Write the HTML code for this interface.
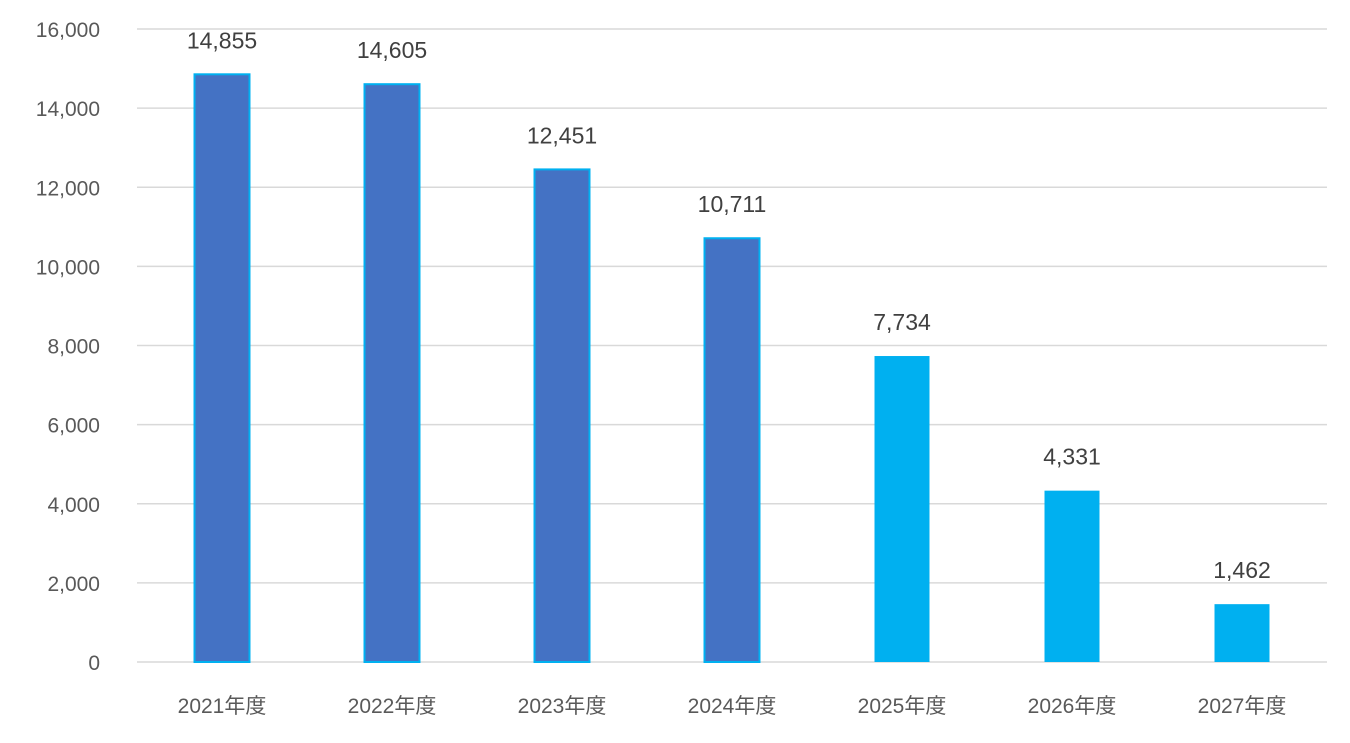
<!DOCTYPE html>
<html><head><meta charset="utf-8"><style>
html,body{margin:0;padding:0;background:#fff;}
svg{display:block;font-family:"Liberation Sans","Noto Sans CJK JP",sans-serif;}
</style></head><body>
<svg id="chart" width="1350" height="743"></svg>
<script>
const categories=["2021年度","2022年度","2023年度","2024年度","2025年度","2026年度","2027年度"];
const values=[14855,14605,12451,10711,7734,4331,1462];
const projected=[false,false,false,false,true,true,true];
const yTicks=[0,2000,4000,6000,8000,10000,12000,14000,16000];
const svg=document.getElementById('chart');
const NS='http://www.w3.org/2000/svg';
const x0=137,x1=1327,yBase=662,yTop=29,yMax=16000;
const y=v=>yBase-(v/yMax)*(yBase-yTop);
const band=(x1-x0)/categories.length;
const xc=i=>x0+band*(i+0.5);
const bw=55;
function mk(tag,attrs,text){const e=document.createElementNS(NS,tag);for(const k in attrs)e.setAttribute(k,attrs[k]);if(text!==undefined)e.textContent=text;svg.appendChild(e);return e;}
const fmt=v=>v.toLocaleString('en-US');
yTicks.forEach(t=>{
  const g=mk('line',{x1:x0,x2:x1,y1:y(t),y2:y(t),stroke:'#d9d9d9','stroke-width':1.5});
  
  
  const l=mk('text',{x:100,y:y(t)+8,'text-anchor':'end','font-size':21,fill:'#595959'},fmt(t));
  
  
});
values.forEach((v,i)=>{
  const p=projected[i];
  const r=mk('rect',{x:xc(i)-bw/2,y:y(v),width:bw,height:yBase-y(v),fill:p?'#00B0F0':'#4472C4',stroke:p?'none':'#00B0F0','stroke-width':2});
  
  
  const t=mk('text',{x:xc(i),y:y(v)-26,'text-anchor':'middle','font-size':23,fill:'#404040'},fmt(v));
  
  
  const c=mk('text',{x:xc(i),y:713,'text-anchor':'middle','font-size':21,fill:'#595959'},categories[i]);
  
  
});
</script>
</body></html>
